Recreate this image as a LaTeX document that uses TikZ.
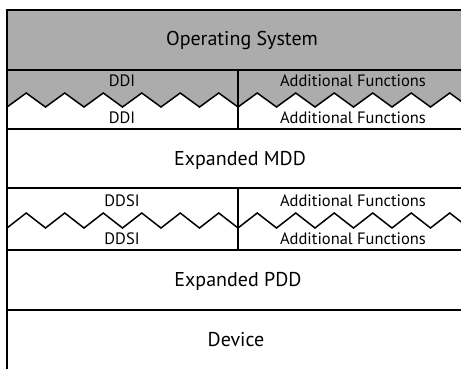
\documentclass[tikz,border=0pt]{standalone}
\usepackage{fontspec}
\setmainfont{PT Sans}
\usepackage{tikz}
\usetikzlibrary{positioning}
\definecolor{osgray}{RGB}{172,172,172}

\begin{document}
\begin{tikzpicture}[x=1pt, y=-1pt,
  layer/.style={line width=1.6pt, line cap=rect},
  zig/.style={line width=1.5pt, line join=miter},
  shade/.style={fill=osgray},
  big/.style={font=\fontsize{20}{24}\selectfont, inner sep=0pt},
  small/.style={font=\fontsize{16.5}{19}\selectfont, inner sep=0pt}
]
\useasboundingbox (0,0) rectangle (461,368);
\clip (0,0) rectangle (461,368);
% shaded operating system layer and upper half of the DDI row
\fill[shade] (7,10) -- (469,10) -- (469,107)
  \foreach \k in {11,...,0} { -- ({7+38.5*\k+19.25},93) -- ({7+38.5*\k},107) }
  -- cycle;
% zigzag borders
\draw[zig] (7,107) \foreach \k in {0,...,11} { -- ({7+38.5*\k+19.25},93) -- ({7+38.5*(\k+1)},107) };
\draw[zig] (7,228) \foreach \k in {0,...,11} { -- ({7+38.5*\k+19.25},213) -- ({7+38.5*(\k+1)},228) };
% layer borders
\foreach \y in {10,70,129,188,250,310}
  \draw[layer] (7,\y) -- (469,\y);
\draw[layer] (7,10) -- (7,370);
\draw[layer] (238,70) -- (238,129);
\draw[layer] (238,188) -- (238,250);
% labels
\node[big] (os) at (242,40) {Operating System};
\node[small] (ddiup) at (122,81) {DDI};
\node[small] (ddilo) at (122,118) {DDI};
\node[small] (afup) at (353,81) {Additional Functions};
\node[small] (aflo) at (353,118) {Additional Functions};
\node[big] (mdd) at (240,160) {Expanded MDD};
\node[small] (ddsiup) at (122,201) {DDSI};
\node[small] (ddsilo) at (122,239) {DDSI};
\node[small] (afsup) at (353,201) {Additional Functions};
\node[small] (afslo) at (353,239) {Additional Functions};
\node[big] (pdd) at (238,281) {Expanded PDD};
\node[big] (dev) at (236,340) {Device};
\end{tikzpicture}
\end{document}
